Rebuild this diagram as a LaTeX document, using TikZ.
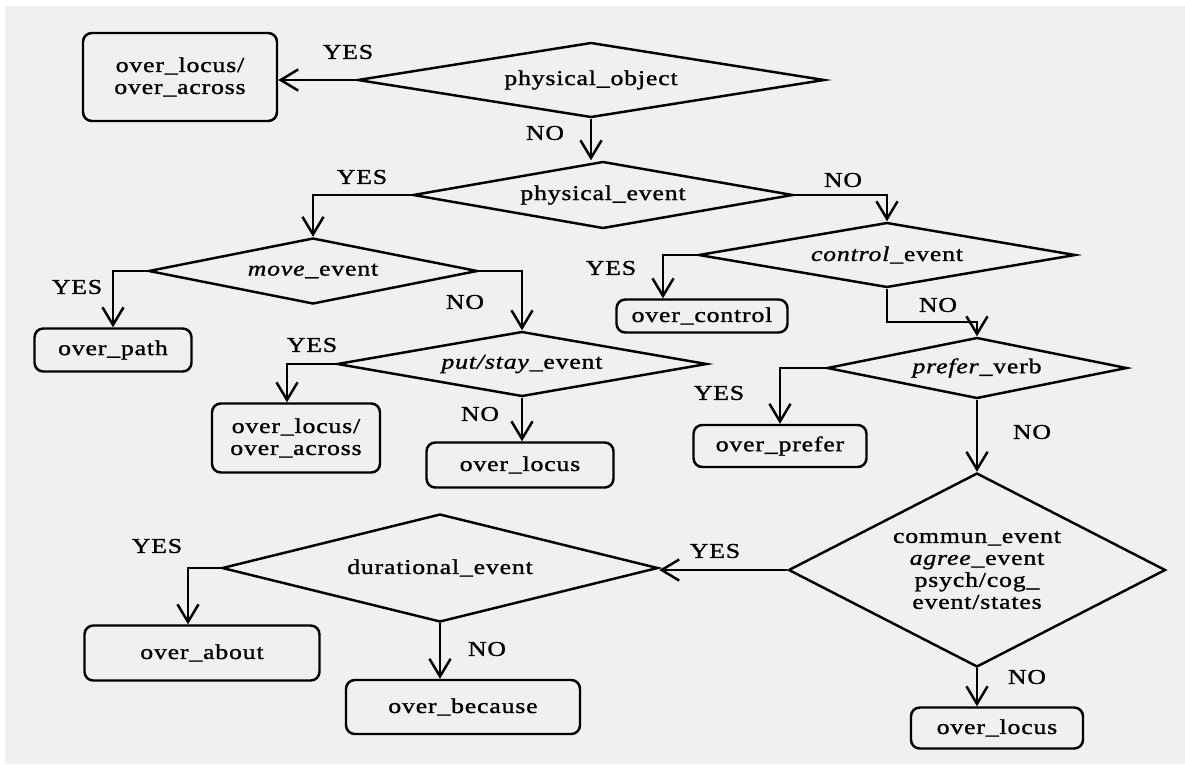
\documentclass[tikz,border=0pt]{standalone}
\usepackage{fontspec}
\setmainfont{Liberation Serif}[FakeStretch=1.22,LetterSpace=4,FakeBold=1.2]
\usepackage{tikz}
\usetikzlibrary{arrows.meta,shapes.geometric}
\definecolor{paper}{RGB}{240,240,238}
\tikzset{decision/.style={draw,diamond,inner sep=0pt,align=center},
    outcome/.style={draw,rectangle,rounded corners=5pt,inner sep=0pt,align=center},
    answer/.style={inner sep=0pt},
    >={Straight Barb[length=10pt,width=12pt]}
}

\begin{document}
\begin{tikzpicture}[x=0.2mm,y=-0.2mm,line width=1.4pt,font=\fontsize{12}{12.5}\selectfont]

% scanned page
\fill [paper] (0,0) rectangle (1185,764);
\fill [white] (0,0) rectangle (1185,6);
\fill [white] (0,0) rectangle (5,764);
\useasboundingbox (0,0) rectangle (1185,764);

% tests
\node (physObj) at (591,80) [decision,minimum width=93.4mm,minimum height=15mm,aspect=6.2] {physical\_object};
\node (physEvent) at (603,195) [decision,minimum width=76mm,minimum height=13.4mm,aspect=5.7] {physical\_event};
\node (moveEvent) at (313,271) [decision,minimum width=65.8mm,minimum height=13.2mm,aspect=5] {\textit{move}\_event};
\node (putStay) at (522,364) [decision,minimum width=74mm,minimum height=13mm,aspect=5.7] {\textit{put/stay}\_event};
\node (ctrlEvent) at (887,255) [decision,minimum width=75.4mm,minimum height=13mm,aspect=5.8] {\textit{control}\_event};
\node (preferVerb) at (977,368) [decision,minimum width=60mm,minimum height=12.2mm,aspect=4.9] {\textit{prefer}\_verb};
\node (communEvent) at (977,570) [decision,minimum width=75.4mm,minimum height=38.8mm,aspect=1.94] {commun\_event\\\textit{agree}\_event\\psych/cog\_\\event/states};
\node (durEvent) at (440,568) [decision,minimum width=87.2mm,minimum height=21.6mm,aspect=4] {durational\_event};

% senses
\node (locusAcrossA) at (180,77) [outcome,minimum width=38.8mm,minimum height=17.6mm] {over\_locus/\\over\_across};
\node (path) at (113,350) [outcome,minimum width=31.4mm,minimum height=8.6mm] {over\_path};
\node (locusAcrossB) at (296,438) [outcome,minimum width=33.6mm,minimum height=13.8mm] {over\_locus/\\over\_across};
\node (locusA) at (520,465) [outcome,minimum width=37.4mm,minimum height=9mm] {over\_locus};
\node (control) at (702,316) [outcome,minimum width=34.2mm,minimum height=6.6mm] {over\_control};
\node (prefer) at (780,446) [outcome,minimum width=34.6mm,minimum height=8.4mm] {over\_prefer};
\node (about) at (202,653) [outcome,minimum width=47mm,minimum height=11mm] {over\_about};
\node (because) at (463,707) [outcome,minimum width=46.8mm,minimum height=10.8mm] {over\_because};
\node (locusB) at (997,728) [outcome,minimum width=34.4mm,minimum height=8.2mm] {over\_locus};

% branches
\draw [->] (physObj.west) -- (physObj.west -| locusAcrossA.east);
\draw [->] (physObj.south) -- (physObj.south |- physEvent.north);
\draw [->] (physEvent.west) -| (moveEvent.north);
\draw [->] (physEvent.east) -| (ctrlEvent.north);
\draw [->] (moveEvent.west) -| (path.north);
\draw [->] (moveEvent.east) -| (putStay.north);
\draw [->] (putStay.west) -| ([xshift=-1.8mm]locusAcrossB.north);
\draw [->] (putStay.south) -- (putStay.south |- locusA.north);
\draw [->] (ctrlEvent.west) -| ([xshift=-7.8mm]control.north);
\draw [->] (ctrlEvent.south) -- ++(0,33) -| (preferVerb.north);
\draw [->] (preferVerb.west) -| (prefer.north);
\draw [->] (preferVerb.south) -- (communEvent.north);
\draw [->] (communEvent.west) -- (communEvent.west -| durEvent.east);
\draw [->] (communEvent.south) -- (communEvent.south |- locusB.north);
\draw [->] (durEvent.west) -| ([xshift=-2.8mm]about.north);
\draw [->] (durEvent.south) -- (durEvent.south |- because.north);

% answers
\node (yesA) at (348,52) [answer] {YES};
\node (noA) at (545,133) [answer] {NO};
\node (yesB) at (362,177) [answer] {YES};
\node (noB) at (843,180) [answer] {NO};
\node (yesC) at (77,287) [answer] {YES};
\node (noC) at (465,302) [answer] {NO};
\node (yesD) at (312,345) [answer] {YES};
\node (noD) at (480,414) [answer] {NO};
\node (yesE) at (611,268) [answer] {YES};
\node (noE) at (938,305) [answer] {NO};
\node (yesF) at (719,393) [answer] {YES};
\node (noF) at (1032,432) [answer] {NO};
\node (yesG) at (715,551) [answer] {YES};
\node (noG) at (1027,677) [answer] {NO};
\node (yesH) at (157,546) [answer] {YES};
\node (noH) at (487,649) [answer] {NO};

\end{tikzpicture}
\end{document}
